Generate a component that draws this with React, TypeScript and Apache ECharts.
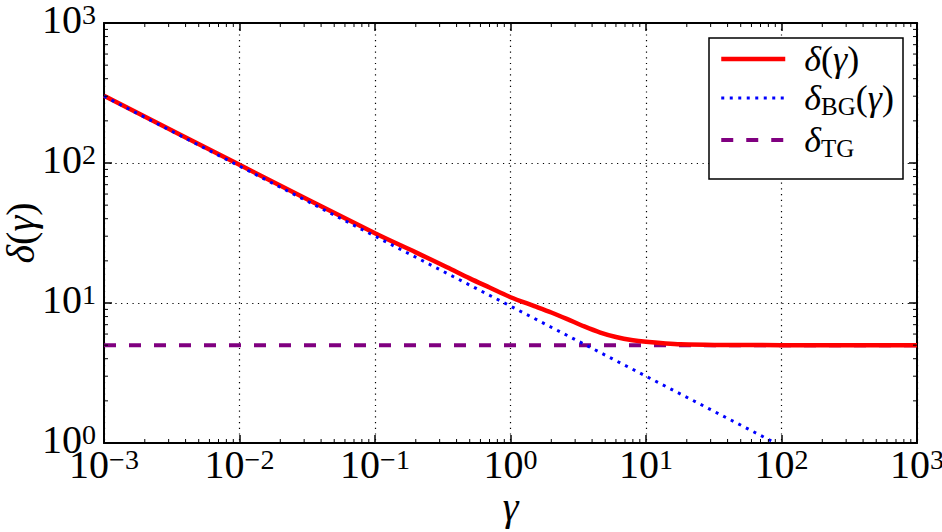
import React, { useEffect, useRef } from "react";
import * as echarts from "echarts";

// Data (log-log)
const gammaFull = [0.001, 0.01, 0.1, 0.2, 0.34, 0.5, 0.7, 1, 1.5, 2, 2.6, 3.5, 4.6, 6, 8, 10, 14, 18, 32, 100, 1000];
const deltaFull = [302, 97, 31.5, 23.0, 18.0, 15.0, 12.9, 11.0, 9.5, 8.55, 7.7, 6.8, 6.15, 5.72, 5.42, 5.28, 5.14, 5.07, 5.02, 5.0, 5.0];

const gammaBG = [0.001, 0.01, 0.1, 1, 10, 90];
const deltaBG = [300, 95, 30, 9.5, 3.0, 1.0];

const gammaTG = [0.001, 1000];
const deltaTG = [5, 5];

const xMin = 0.001;
const xMax = 1000;
const yMin = 1;
const yMax = 1000;

// minor tick positions (2..9 within each decade)
const minorMultipliers = [2, 3, 4, 5, 6, 7, 8, 9];
const xDecades = [0.001, 0.01, 0.1, 1, 10, 100];
const yDecades = [1, 10, 100];

const FONT = "Liberation Serif";

function supLabel(v: number) {
  const e = Math.round(Math.log10(v));
  const s = e < 0 ? "\u2212" + -e : String(e);
  return `{b|10}{s|${s}}`;
}

const tickRich = {
  b: { fontSize: 40, fontFamily: FONT, color: "#000", lineHeight: 40, verticalAlign: "bottom" },
  s: { fontSize: 28, fontFamily: FONT, color: "#000", lineHeight: 28, verticalAlign: "top", padding: [1, 0, 0, 0] },
};

const nameRich = {
  i: { fontSize: 40, fontFamily: FONT, fontStyle: "italic", color: "#000", lineHeight: 34, verticalAlign: "middle" },
  r: { fontSize: 40, fontFamily: FONT, color: "#000", lineHeight: 34, verticalAlign: "middle" },
};

const legendRich = {
  i: { fontSize: 36, fontFamily: FONT, fontStyle: "italic", color: "#000", lineHeight: 42, verticalAlign: "middle" },
  r: { fontSize: 36, fontFamily: FONT, color: "#000", lineHeight: 42, verticalAlign: "middle" },
  sub: { fontSize: 25, fontFamily: FONT, color: "#000", lineHeight: 22, verticalAlign: "bottom" },
};

export default function App() {
  const ref = useRef<HTMLDivElement>(null);
  useEffect(() => {
    if (!ref.current) return;
    const chart = echarts.init(ref.current, undefined, { renderer: "svg" });

    const minorX: number[][] = [];
    xDecades.forEach((d) => minorMultipliers.forEach((m) => minorX.push([d * m, 10])));
    const minorY: number[][] = [];
    yDecades.forEach((d) => minorMultipliers.forEach((m) => minorY.push([1, d * m])));

    const gridStyle = { show: true, lineStyle: { color: "#000", width: 1.2, type: [1.2, 4.5] } };
    const axisLine = { show: true, lineStyle: { color: "#000", width: 2 } };
    const majorTick = { show: true, inside: true, length: 8, lineStyle: { color: "#000", width: 1.5 } };

    const legendNames: Record<string, string> = {
      full: "{i|δ}{r|(}{i|γ}{r|)}",
      bg: "{i|δ}{sub|BG}{r|(}{i|γ}{r|)}",
      tg: "{i|δ}{sub|TG}",
    };

    const redStyle = { color: "#ff0000", width: 4.5 };
    const blueStyle = { color: "#0000ff", width: 3, type: [3, 5.5] };
    const purpleStyle = { color: "#800080", width: 4, type: [12, 13] };

    chart.setOption({
      animation: false,
      backgroundColor: "#fff",
      grid: { left: 104, right: 25, top: 23, bottom: 89, containLabel: false, outerBoundsMode: "none" },
      xAxis: [
        {
          type: "log",
          logBase: 10,
          min: xMin,
          max: xMax,
          splitNumber: 6,
          axisLine,
          axisTick: majorTick,
          splitLine: gridStyle,
          axisLabel: { formatter: supLabel, rich: tickRich, margin: 1, fontSize: 40, fontFamily: FONT },
          name: "{i|γ}",
          nameLocation: "middle",
          nameGap: 46,
          nameMoveOverlap: false,
          nameTextStyle: { rich: nameRich, fontSize: 40, fontFamily: FONT },
        },
        {
          type: "log",
          logBase: 10,
          min: xMin,
          max: xMax,
          splitNumber: 6,
          position: "top",
          axisLine,
          axisTick: majorTick,
          splitLine: { show: false },
          axisLabel: { show: false },
        },
      ],
      yAxis: [
        {
          type: "log",
          logBase: 10,
          min: yMin,
          max: yMax,
          splitNumber: 3,
          axisLine,
          axisTick: majorTick,
          splitLine: gridStyle,
          axisLabel: {
            formatter: supLabel,
            rich: tickRich,
            margin: 8,
            fontSize: 40,
            fontFamily: FONT,
            padding: [0, 0, 8, 0],
          },
          name: "{i|δ}{r|(}{i|γ}{r|)}",
          nameLocation: "middle",
          nameGap: 67,
          nameRotate: 90,
          nameMoveOverlap: false,
          nameTextStyle: { rich: nameRich, fontSize: 40, fontFamily: FONT },
        },
        {
          type: "log",
          logBase: 10,
          min: yMin,
          max: yMax,
          splitNumber: 3,
          position: "right",
          axisLine,
          axisTick: majorTick,
          splitLine: { show: false },
          axisLabel: { show: false },
        },
      ],
      legend: {
        left: 719,
        top: 41,
        orient: "vertical",
        padding: 0,
        itemWidth: 64,
        itemHeight: 14,
        itemGap: 3,
        data: [
          { name: "full", itemStyle: { opacity: 0 }, lineStyle: redStyle },
          { name: "bg", itemStyle: { opacity: 0 }, lineStyle: blueStyle },
          { name: "tg", itemStyle: { opacity: 0 }, lineStyle: purpleStyle },
        ],
        formatter: (n: string) => legendNames[n],
        textStyle: { rich: legendRich, padding: [0, 0, 0, 14], fontSize: 36, fontFamily: FONT },
        z: 10,
      },
      graphic: [
        {
          type: "rect",
          z: 8,
          shape: { x: 709, y: 38, width: 194, height: 141 },
          style: { fill: "#fff", stroke: "#000", lineWidth: 1.5 },
        },
      ],
      series: [
        {
          name: "tg",
          type: "line",
          data: gammaTG.map((g, i) => [g, deltaTG[i]]),
          showSymbol: false,
          symbol: "none",
          lineStyle: purpleStyle,
          itemStyle: { color: "#800080" },
          z: 3,
        },
        {
          name: "full",
          type: "line",
          data: gammaFull.map((g, i) => [g, deltaFull[i]]),
          showSymbol: false,
          symbol: "none",
          smooth: 0.3,
          lineStyle: redStyle,
          itemStyle: { color: "#ff0000" },
          z: 4,
        },
        {
          name: "bg",
          type: "line",
          data: gammaBG.map((g, i) => [g, deltaBG[i]]),
          showSymbol: false,
          symbol: "none",
          lineStyle: blueStyle,
          itemStyle: { color: "#0000ff" },
          z: 5,
        },
        {
          type: "custom",
          data: minorX,
          silent: true,
          renderItem: (params: any, api: any) => {
            const cs = params.coordSys;
            const x = api.coord([api.value(0), 10])[0];
            const yb = cs.y + cs.height;
            const yt = cs.y;
            return {
              type: "group",
              children: [
                { type: "line", shape: { x1: x, y1: yb, x2: x, y2: yb - 4 }, style: { stroke: "#000", lineWidth: 1 } },
                { type: "line", shape: { x1: x, y1: yt, x2: x, y2: yt + 4 }, style: { stroke: "#000", lineWidth: 1 } },
              ],
            };
          },
          z: 6,
        },
        {
          type: "custom",
          data: minorY,
          silent: true,
          renderItem: (params: any, api: any) => {
            const cs = params.coordSys;
            const y = api.coord([1, api.value(1)])[1];
            const xl = cs.x;
            const xr = cs.x + cs.width;
            return {
              type: "group",
              children: [
                { type: "line", shape: { x1: xl, y1: y, x2: xl + 4, y2: y }, style: { stroke: "#000", lineWidth: 1 } },
                { type: "line", shape: { x1: xr, y1: y, x2: xr - 4, y2: y }, style: { stroke: "#000", lineWidth: 1 } },
              ],
            };
          },
          z: 6,
        },
      ],
    });
    return () => chart.dispose();
  }, []);
  return <div ref={ref} style={{ width: 942, height: 532, position: "absolute", left: 0, top: 0 }} />;
}
